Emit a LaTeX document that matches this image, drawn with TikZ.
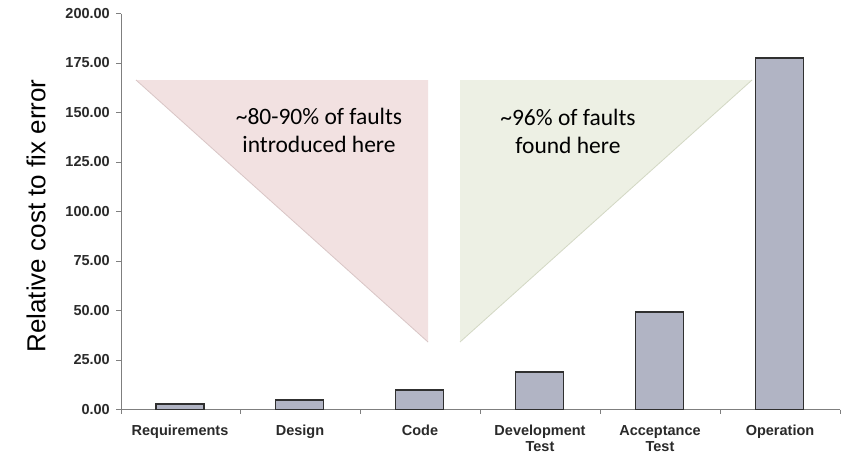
\documentclass[tikz,border=0pt]{standalone}
\usepackage{fontspec}
\setmainfont{Liberation Sans}
\newfontfamily\calfont{Carlito}
\definecolor{barfill}{HTML}{B1B4C4}
\definecolor{barline}{HTML}{303030}
\definecolor{axisgray}{HTML}{7F7F7F}
\definecolor{pinkfill}{HTML}{F2E1E1}
\definecolor{pinkedge}{HTML}{D9C6C6}
\definecolor{greenfill}{HTML}{EDF0E4}
\definecolor{greenedge}{HTML}{D3D8C4}
\definecolor{ticktext}{HTML}{2A2A2A}
\newcommand{\twolines}[2]{\begin{tabular}[t]{@{}c@{}}#1\\#2\end{tabular}}
\begin{document}
\begin{tikzpicture}[x=1pt,y=-1pt,
  bar/.style={fill=barfill,draw=barline,line width=1.2pt},
  axisline/.style={draw=axisgray,line width=0.9pt},
  ticklab/.style={anchor=east,inner sep=0pt,text=ticktext,font=\bfseries\fontsize{14.5}{16}\selectfont},
  catlab/.style={anchor=base,inner sep=0pt,text=ticktext,font=\bfseries\fontsize{14.5}{16.5}\selectfont},
  tritext/.style={anchor=base,inner sep=0pt,font=\calfont\fontsize{23.5}{28}\selectfont}]
\useasboundingbox (0,0) rectangle (843,453);
\fill[white] (0,0) rectangle (843,453);
% triangles
\coordinate (p1) at (136,80); \coordinate (p2) at (428,80); \coordinate (p3) at (428,342);
\fill[pinkfill] (p1) -- (p2) -- (p3) -- cycle;
\draw[pinkedge,line width=0.8pt] (p1) -- (p3);
\coordinate (g1) at (460,80); \coordinate (g2) at (752,80); \coordinate (g3) at (460,342);
\fill[greenfill] (g1) -- (g2) -- (g3) -- cycle;
\draw[greenedge,line width=0.8pt] (g2) -- (g3);
\node[tritext] (tpink) at (319,124) {\twolines{\char`\~80-90\% of faults}{introduced here}};
\node[tritext] (tgreen) at (568,125) {\twolines{\char`\~96\% of faults}{found here}};
% axes
\coordinate (o) at (121,409.5);
\coordinate (ytop) at (121,13.5);
\coordinate (xend) at (840,409.5);
\draw[axisline] (ytop) -- (o) -- (xend);
\foreach \v [count=\i from 0] in {0.00,25.00,50.00,75.00,100.00,125.00,150.00,175.00,200.00}{
  \pgfmathsetmacro{\yy}{409.5-49.5*\i}
  \draw[axisline] (116,\yy) -- (121,\yy);
  \node[ticklab] (yl\i) at (110,\yy) {\v};
}
\foreach \i in {0,...,6}{
  \pgfmathsetmacro{\xx}{121+119.83*\i}
  \draw[axisline] (\xx,409.5) -- (\xx,414);
}
% bars
\foreach \c/\t [count=\i from 0] in {180/404,299.5/400,419.5/390,539.5/372,659.5/312,779.5/58}{
  \draw[bar] (\c-24,409.5) rectangle (\c+24,\t);
}
% category labels
\node[catlab] (c1) at (180,435) {Requirements};
\node[catlab] (c2) at (300,435) {Design};
\node[catlab] (c3) at (420,435) {Code};
\node[catlab] (c4) at (540,435) {\twolines{Development}{Test}};
\node[catlab] (c5) at (660,435) {\twolines{Acceptance}{Test}};
\node[catlab] (c6) at (780,435) {Operation};
% y title
\node[rotate=90,inner sep=0pt,font=\fontsize{26}{30}\selectfont] (ytitle) at (36,216) {Relative cost to fix error};
\end{tikzpicture}
\end{document}
